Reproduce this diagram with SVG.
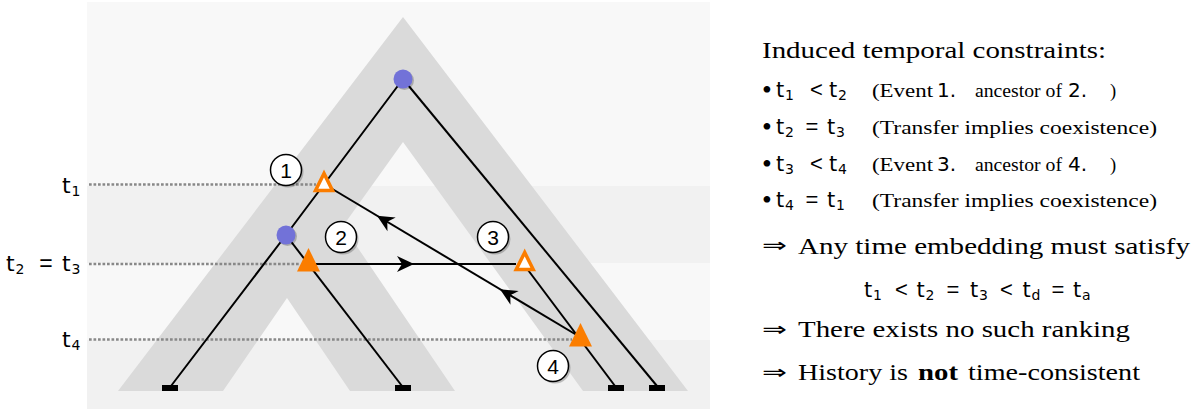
<svg xmlns="http://www.w3.org/2000/svg" width="1203" height="410" viewBox="0 0 1203 410">
<defs>
<style>
.serif{font-family:"Liberation Serif","Times New Roman",serif;fill:#000}
.sans{font-family:"Liberation Sans",Arial,sans-serif;fill:#000}
.m{font-family:"DejaVu Sans","Liberation Sans",sans-serif;fill:#000}
.gl{stroke:#000;stroke-width:2;fill:none}
.dot{stroke:#888;stroke-width:2.3;stroke-dasharray:2.7 1.8;fill:none}
.ev{fill:#fb7d00}
.evo{fill:#fff;stroke:#fb7d00;stroke-width:3.5;stroke-linejoin:miter}
.sp{fill:#7272d8}
.shadow{fill:#000;opacity:.22}
.lab{fill:#fff;stroke:#000;stroke-width:1.5}
.leaf{fill:#000}
.num{font-family:"Liberation Sans",Arial,sans-serif;font-size:21px;text-anchor:middle;fill:#000}
.arr{font-family:"DejaVu Sans",sans-serif;fill:#000}
</style>
<path id="ah" d="M0,0 L-17,-8 L-12,0 L-17,8 Z" fill="#000"/>
</defs>
<rect x="0" y="0" width="1203" height="410" fill="#fff"/>
<g id="background">
<rect x="87" y="2" width="623" height="407" fill="#f8f8f8"/>
<rect x="87" y="186" width="623" height="77" fill="#f1f1f1"/>
<rect x="87" y="340" width="623" height="69" fill="#f1f1f1"/>
</g>
<g id="species-tree">
<polygon fill="#dadada" points="118,391 403,17 688,391 583,391 403,142 343,226 455,391 350,391 287,298 223,391"/>
</g>
<g id="time-lines">
<line class="dot" x1="89" y1="184.5" x2="316" y2="184.5"/>
<line class="dot" x1="89" y1="264" x2="300" y2="264"/>
<line class="dot" x1="89" y1="339.5" x2="572" y2="339.5"/>
<text class="m" y="193" font-size="22"><tspan x="62">t</tspan><tspan x="71.5" dy="3" font-size="14">1</tspan></text>
<text class="m" y="271" font-size="22"><tspan x="6">t</tspan><tspan x="15.5" dy="3" font-size="14">2</tspan></text>
<text class="sans" x="46" y="271" font-size="23" text-anchor="middle">=</text>
<text class="m" y="271" font-size="22"><tspan x="62">t</tspan><tspan x="71.5" dy="3" font-size="14">3</tspan></text>
<text class="m" y="347" font-size="22"><tspan x="62">t</tspan><tspan x="71.5" dy="3" font-size="14">4</tspan></text>
</g>
<g id="connectors">
<polyline class="gl" points="403,79 286,235 171,386"/>
<line class="gl" x1="403" y1="79" x2="657" y2="386"/>
<line class="gl" x1="286" y1="235" x2="402" y2="386"/>
<line class="gl" x1="522" y1="262" x2="615" y2="386"/>
<line class="gl" x1="316" y1="264" x2="516" y2="264"/>
<line class="gl" x1="324" y1="184" x2="580" y2="337"/>
<use href="#ah" transform="translate(414,264)"/>
<use href="#ah" transform="translate(377,215.7) rotate(-149.1)"/>
<use href="#ah" transform="translate(500,289.2) rotate(-149.1)"/>
</g>
<g id="leaves">
<rect class="leaf" x="162" y="385" width="16" height="6"/>
<rect class="leaf" x="395" y="385" width="16" height="6"/>
<rect class="leaf" x="608" y="385" width="16" height="6"/>
<rect class="leaf" x="649" y="385" width="16" height="6"/>
</g>
<g id="spec-root">
<circle class="shadow" cx="404.5" cy="80.5" r="9.5"/>
<circle class="sp" cx="403" cy="79" r="9.5"/>
</g>
<g id="spec-left">
<circle class="shadow" cx="287.5" cy="236.5" r="9.5"/>
<circle class="sp" cx="286" cy="235" r="9.5"/>
</g>
<g id="event-1">
<polygon class="evo" points="324,173.5 315.5,190.5 332.5,190.5"/>
<circle class="shadow" cx="288" cy="172" r="15.5"/>
<circle class="lab" cx="286" cy="170" r="15.5"/>
<text class="num" x="286" y="177.5">1</text>
</g>
<g id="event-2">
<polygon class="ev" points="308.5,248 297,271.5 320,271.5"/>
<circle class="shadow" cx="343" cy="239" r="15.5"/>
<circle class="lab" cx="341" cy="237" r="15.5"/>
<text class="num" x="341" y="244.5">2</text>
</g>
<g id="event-3">
<polygon class="evo" points="524.7,252.5 516.2,269.5 533.2,269.5"/>
<circle class="shadow" cx="495" cy="239" r="15.5"/>
<circle class="lab" cx="493" cy="237" r="15.5"/>
<text class="num" x="493" y="244.5">3</text>
</g>
<g id="event-4">
<polygon class="ev" points="580.5,323 569,346.5 592,346.5"/>
<circle class="shadow" cx="555" cy="368" r="15.5"/>
<circle class="lab" cx="553" cy="366" r="15.5"/>
<text class="num" x="553" y="373.5">4</text>
</g>
<g id="constraints">
<text class="serif" x="762" y="58" font-size="23" textLength="344" lengthAdjust="spacingAndGlyphs">Induced temporal constraints:</text>
<!-- line 1 -->
<text class="serif" x="762" y="99" font-size="28">•</text>
<text class="m" y="97" font-size="21"><tspan x="776">t</tspan><tspan x="785" dy="3" font-size="14">1</tspan></text>
<text class="sans" x="810" y="97" font-size="22">&lt;</text>
<text class="m" y="97" font-size="21"><tspan x="829">t</tspan><tspan x="838" dy="3" font-size="14">2</tspan></text>
<text class="serif" x="872" y="97" font-size="18.5" textLength="61" lengthAdjust="spacingAndGlyphs">(Event</text>
<text class="m" x="937" y="97" font-size="20">1.</text>
<text class="serif" x="975" y="97" font-size="18.5" textLength="87" lengthAdjust="spacingAndGlyphs">ancestor of</text>
<text class="m" x="1068" y="97" font-size="20">2.</text>
<text class="serif" x="1110" y="97" font-size="18.5">)</text>
<!-- line 2 -->
<text class="serif" x="762" y="135.5" font-size="28">•</text>
<text class="m" y="133.5" font-size="21"><tspan x="776">t</tspan><tspan x="785" dy="3" font-size="14">2</tspan></text>
<text class="sans" x="812" y="133.5" font-size="22" text-anchor="middle">=</text>
<text class="m" y="133.5" font-size="21"><tspan x="827">t</tspan><tspan x="836" dy="3" font-size="14">3</tspan></text>
<text class="serif" x="872" y="133.5" font-size="18.5" textLength="285" lengthAdjust="spacingAndGlyphs">(Transfer implies coexistence)</text>
<!-- line 3 -->
<text class="serif" x="762" y="172.5" font-size="28">•</text>
<text class="m" y="170.5" font-size="21"><tspan x="776">t</tspan><tspan x="785" dy="3" font-size="14">3</tspan></text>
<text class="sans" x="810" y="170.5" font-size="22">&lt;</text>
<text class="m" y="170.5" font-size="21"><tspan x="829">t</tspan><tspan x="838" dy="3" font-size="14">4</tspan></text>
<text class="serif" x="872" y="170.5" font-size="18.5" textLength="61" lengthAdjust="spacingAndGlyphs">(Event</text>
<text class="m" x="937" y="170.5" font-size="20">3.</text>
<text class="serif" x="975" y="170.5" font-size="18.5" textLength="87" lengthAdjust="spacingAndGlyphs">ancestor of</text>
<text class="m" x="1068" y="170.5" font-size="20">4.</text>
<text class="serif" x="1110" y="170.5" font-size="18.5">)</text>
<!-- line 4 -->
<text class="serif" x="762" y="209" font-size="28">•</text>
<text class="m" y="207" font-size="21"><tspan x="776">t</tspan><tspan x="785" dy="3" font-size="14">4</tspan></text>
<text class="sans" x="812" y="207" font-size="22" text-anchor="middle">=</text>
<text class="m" y="207" font-size="21"><tspan x="827">t</tspan><tspan x="836" dy="3" font-size="14">1</tspan></text>
<text class="serif" x="872" y="207" font-size="18.5" textLength="285" lengthAdjust="spacingAndGlyphs">(Transfer implies coexistence)</text>
<!-- conclusions -->
<text class="arr" x="762" y="252" font-size="20" textLength="25" lengthAdjust="spacingAndGlyphs">⇒</text>
<text class="serif" x="798" y="253.5" font-size="23" textLength="392" lengthAdjust="spacingAndGlyphs">Any time embedding must satisfy</text>
<text class="m" y="297" font-size="21"><tspan x="864">t</tspan><tspan x="873" dy="3" font-size="14">1</tspan></text>
<text class="sans" x="895" y="297" font-size="22">&lt;</text>
<text class="m" y="297" font-size="21"><tspan x="916.5">t</tspan><tspan x="925.5" dy="3" font-size="14">2</tspan></text>
<text class="sans" x="953" y="297" font-size="22" text-anchor="middle">=</text>
<text class="m" y="297" font-size="21"><tspan x="970">t</tspan><tspan x="979" dy="3" font-size="14">3</tspan></text>
<text class="sans" x="1000" y="297" font-size="22">&lt;</text>
<text class="m" y="297" font-size="21"><tspan x="1022.5">t</tspan><tspan x="1031.5" dy="3" font-size="14">d</tspan></text>
<text class="sans" x="1058" y="297" font-size="22" text-anchor="middle">=</text>
<text class="m" y="297" font-size="21"><tspan x="1073">t</tspan><tspan x="1082" dy="3" font-size="14">a</tspan></text>
<text class="arr" x="762" y="335.5" font-size="20" textLength="25" lengthAdjust="spacingAndGlyphs">⇒</text>
<text class="serif" x="798" y="337" font-size="23" textLength="332" lengthAdjust="spacingAndGlyphs">There exists no such ranking</text>
<text class="arr" x="762" y="378.5" font-size="20" textLength="25" lengthAdjust="spacingAndGlyphs">⇒</text>
<text class="serif" x="798" y="380" font-size="23" textLength="110" lengthAdjust="spacingAndGlyphs">History is</text>
<text class="serif" x="918" y="380" font-size="23" font-weight="bold" textLength="40" lengthAdjust="spacingAndGlyphs">not</text>
<text class="serif" x="968" y="380" font-size="23" textLength="172" lengthAdjust="spacingAndGlyphs">time-consistent</text>
</g>
</svg>
